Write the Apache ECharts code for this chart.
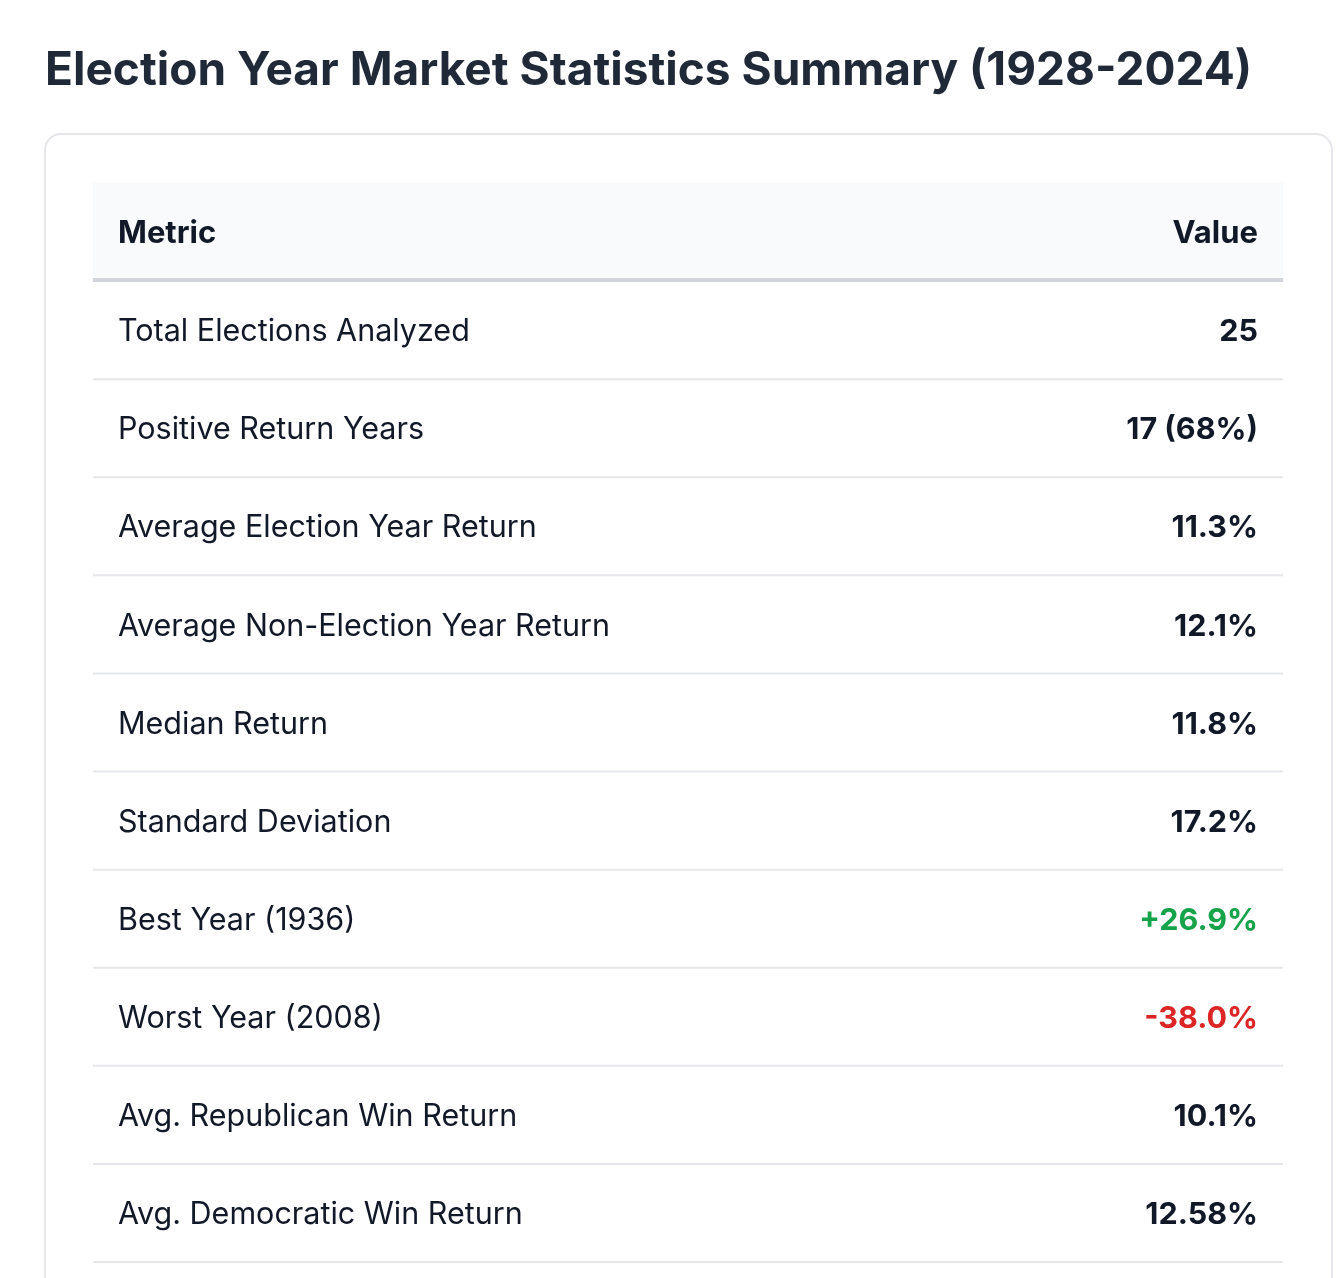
<!DOCTYPE html>
<html>
<head>
<meta charset="utf-8">
<script src="https://cdn.jsdelivr.net/npm/echarts@6/dist/echarts.min.js"></script>
<style>
  html, body { margin: 0; padding: 0; background: #fff; }
  #main { width: 1342px; height: 1278px; }
</style>
</head>
<body>
<div id="main"></div>
<script>
const headers = ['Metric', 'Value'];
const metrics = [
  'Total Elections Analyzed',
  'Positive Return Years',
  'Average Election Year Return',
  'Average Non-Election Year Return',
  'Median Return',
  'Standard Deviation',
  'Best Year (1936)',
  'Worst Year (2008)',
  'Avg. Republican Win Return',
  'Avg. Democratic Win Return'
];
const values = ['25', '17 (68%)', '11.3%', '12.1%', '11.8%', '17.2%', '+26.9%', '-38.0%', '10.1%', '12.58%'];

const FONT = 'Inter, "Noto Sans", sans-serif';

function valueColor(v) {
  if (v.charAt(0) === '+') return '#16a34a';
  if (v.charAt(0) === '-') return '#dc2626';
  return '#111827';
}

function renderRow(params, api) {
  const idx = api.value(1);
  const center = api.coord([0, idx]);
  const h = api.size([0, 1])[1];
  const cs = params.coordSys;
  const top = center[1] - h / 2;
  const bottom = center[1] + h / 2;
  const isHead = idx === 0;
  const children = [];
  if (isHead) {
    children.push({
      type: 'rect',
      shape: { x: cs.x, y: top, width: cs.width, height: h },
      style: { fill: '#f9fafb' }
    });
    children.push({
      type: 'rect',
      shape: { x: cs.x, y: bottom - 3, width: cs.width, height: 4 },
      style: { fill: '#d1d5db' }
    });
  } else {
    children.push({
      type: 'rect',
      shape: { x: cs.x, y: bottom - 1, width: cs.width, height: 2 },
      style: { fill: '#e5e7eb' }
    });
  }
  const left = isHead ? headers[0] : metrics[idx - 1];
  const right = isHead ? headers[1] : values[idx - 1];
  const ty = center[1] + 2;
  children.push({
    type: 'text',
    style: {
      x: cs.x + 25, y: ty,
      text: left,
      fill: '#111827',
      font: isHead ? 'bold 31px ' + FONT : '30.5px ' + FONT,
      textAlign: 'left', textVerticalAlign: 'middle'
    }
  });
  children.push({
    type: 'text',
    style: {
      x: cs.x + cs.width - 25, y: ty,
      text: right,
      fill: isHead ? '#111827' : valueColor(right),
      font: isHead ? 'bold 31px ' + FONT : 'bold 30.5px ' + FONT,
      textAlign: 'right', textVerticalAlign: 'middle'
    }
  });
  return { type: 'group', children: children };
}

document.addEventListener('DOMContentLoaded', () => {
  const chart = echarts.init(document.getElementById('main'));
  const rows = ['header'].concat(metrics);

  const option = {
    animation: false,
    backgroundColor: '#ffffff',
    title: {
      text: 'Election Year Market Statistics Summary (1928-2024)',
      left: 40, top: 43,
      textStyle: { fontFamily: FONT, fontSize: 46, fontWeight: 'bold', color: '#1f2937' }
    },
    graphic: [{
      type: 'rect',
      left: 44, top: 133,
      shape: { width: 1287, height: 1300, r: 16 },
      style: { fill: '#ffffff', stroke: '#e5e7eb', lineWidth: 2 },
      z: -10
    }],
    grid: { left: 93, right: 59, top: 183, bottom: 16 },
    xAxis: { type: 'value', min: 0, max: 1, show: false },
    yAxis: { type: 'category', data: rows, inverse: true, show: false },
    series: [{
      type: 'custom',
      renderItem: renderRow,
      data: rows.map((r, i) => [0, i]),
      encode: { x: 0, y: 1 }
    }]
  };

  chart.setOption(option);
});
</script>
</body>
</html>
